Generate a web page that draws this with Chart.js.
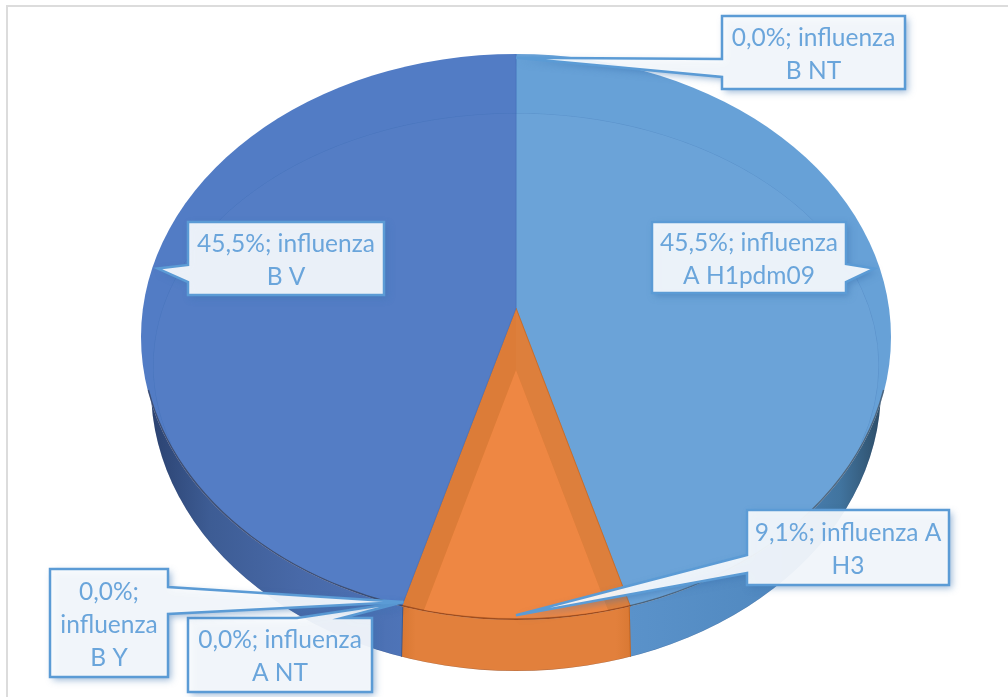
<!DOCTYPE html>
<html>
<head>
<meta charset="utf-8">
<script src="https://cdn.jsdelivr.net/npm/chart.js@4"></script>
<style>
    html, body { margin: 0; padding: 0; background: #ffffff; overflow: hidden; }
    #stage { position: relative; width: 1008px; height: 697px; }
    #stage canvas { position: absolute; left: 0; top: 0; }
    #frame { position: absolute; left: 6px; top: 5px; right: 0; bottom: 0; border-top: 2px solid #dcdcdc; border-left: 2px solid #dcdcdc; }
</style>
</head>
<body>
<div id="stage">
    <div id="frame"></div>
    <canvas id="wallLayer" width="1008" height="697"></canvas>
    <canvas id="baseLayer" width="1008" height="697"></canvas>
    <canvas id="innerLayer" width="1008" height="697"></canvas>
</div>
<script>
const categories = ['influenza A H1pdm09', 'influenza A H3', 'influenza A NT', 'influenza B Y', 'influenza B V', 'influenza B NT'];
const shares = [45.5, 9.1, 0, 0, 45.5, 0];

const baseColors = ['#67a1d7', '#dc7b36', '#67a1d7', '#527cc5', '#527cc5', '#527cc5'];
// the blue slices stay see-through so the orange band of the base layer shows
const innerColors = ['rgba(255,255,255,0.03)', '#ee8743', 'rgba(255,255,255,0.03)', 'rgba(255,255,255,0.01)', 'rgba(255,255,255,0.01)', 'rgba(255,255,255,0.01)'];
const sliceBorders = ['#5a97d0', '#c9661f', '#5a97d0', '#4a74bd', '#4a74bd', '#4a74bd'];

// box of each callout, same order as categories
const calloutBoxes = [
    { x: 652, y: 222, w: 194, h: 71, side: 'right', a: 264, b: 282 },
    { x: 747, y: 510, w: 202, h: 75, side: 'left', a: 555, b: 573 },
    { x: 188, y: 618, w: 184, h: 74, side: 'top', a: 297, b: 342 },
    { x: 50, y: 569, w: 118, h: 108, side: 'right', a: 587, b: 614 },
    { x: 188, y: 222, w: 196, h: 73, side: 'left', a: 265, b: 282 },
    { x: 722, y: 16, w: 183, h: 73, side: 'left', a: 59, b: 77 }
];

const TILT = 0.766;
const APEX_Y = 308;
const RADIUS = 540;
const TOP_RIM = { cy: 337, rx: 375, ry: 283 };
const INNER_RIM = { cy: 365.5, rx: 363, ry: 252.5 };
const WALL_RIM = { cy: 388, rx: 365, ry: 283 };

function formatShare(value) {
    return value.toFixed(1).replace('.', ',') + '%';
}

const tiltedPie = {
    id: 'tiltedPie',
    beforeDatasetsDraw(chart, args, opts) {
        const ctx = chart.ctx;
        const arc = chart.getDatasetMeta(0).data[0];
        ctx.save();
        ctx.beginPath();
        ctx.ellipse(arc.x, opts.cy, opts.rx, opts.ry, 0, 0, Math.PI * 2);
        ctx.clip();
        ctx.translate(arc.x, opts.apexY);
        ctx.scale(1, opts.tilt);
        ctx.translate(-arc.x, -arc.y);
    },
    afterDatasetsDraw(chart, args, opts) {
        const ctx = chart.ctx;
        const arc = chart.getDatasetMeta(0).data[0];
        ctx.restore();
        ctx.save();
        // keep the rim inside the ellipse, multiply needs the slice colour under it
        ctx.beginPath();
        ctx.ellipse(arc.x, opts.cy, opts.rx, opts.ry, 0, 0, Math.PI * 2);
        ctx.clip();
        ctx.beginPath();
        ctx.ellipse(arc.x, opts.cy, opts.rx, opts.ry, 0, opts.rimFrom, opts.rimTo);
        ctx.lineWidth = opts.rimWidth;
        ctx.globalCompositeOperation = opts.blend;
        ctx.strokeStyle = opts.rim;
        ctx.stroke();
        ctx.restore();
    }
};

function rimPoint(arc) {
    // ray from the slice apex through the middle of the slice, up to the top rim
    const mid = (arc.startAngle + arc.endAngle) / 2;
    const dx = Math.cos(mid);
    const dy = Math.sin(mid) * TILT;
    const oy = APEX_Y - TOP_RIM.cy;
    const A = (dx * dx) / (TOP_RIM.rx * TOP_RIM.rx) + (dy * dy) / (TOP_RIM.ry * TOP_RIM.ry);
    const B = 2 * oy * dy / (TOP_RIM.ry * TOP_RIM.ry);
    const C = (oy * oy) / (TOP_RIM.ry * TOP_RIM.ry) - 1;
    const t = (-B + Math.sqrt(B * B - 4 * A * C)) / (2 * A);
    return { x: arc.x + dx * t * 0.985, y: APEX_Y + dy * t * 0.985 };
}

function wrapLabel(ctx, text, maxWidth) {
    const lines = [];
    let line = '';
    text.split(' ').forEach(word => {
        const next = line ? line + ' ' + word : word;
        if (line && ctx.measureText(next).width > maxWidth) {
            lines.push(line);
            line = word;
        } else {
            line = next;
        }
    });
    lines.push(line);
    return lines;
}

function calloutPath(ctx, box, tip) {
    const r = box.x + box.w;
    const d = box.y + box.h;
    ctx.beginPath();
    ctx.moveTo(box.x, box.y);
    if (box.side === 'top') {
        ctx.lineTo(box.a, box.y);
        ctx.lineTo(tip.x, tip.y);
        ctx.lineTo(box.b, box.y);
    }
    ctx.lineTo(r, box.y);
    if (box.side === 'right') {
        ctx.lineTo(r, box.a);
        ctx.lineTo(tip.x, tip.y);
        ctx.lineTo(r, box.b);
    }
    ctx.lineTo(r, d);
    ctx.lineTo(box.x, d);
    if (box.side === 'left') {
        ctx.lineTo(box.x, box.b);
        ctx.lineTo(tip.x, tip.y);
        ctx.lineTo(box.x, box.a);
    }
    ctx.closePath();
}

const callouts = {
    id: 'callouts',
    afterDraw(chart) {
        const ctx = chart.ctx;
        const arcs = baseChart.getDatasetMeta(0).data;
        categories.forEach((name, i) => {
            const box = calloutBoxes[i];
            const tip = rimPoint(arcs[i]);
            ctx.save();
            calloutPath(ctx, box, tip);
            ctx.shadowColor = 'rgba(60,115,175,0.55)';
            ctx.shadowBlur = 7;
            ctx.shadowOffsetX = 3;
            ctx.shadowOffsetY = 3;
            ctx.fillStyle = 'rgba(249,251,253,0.92)';
            ctx.fill();
            ctx.shadowColor = 'transparent';
            ctx.lineWidth = 2.5;
            ctx.lineJoin = 'miter';
            ctx.strokeStyle = '#5b9bd5';
            ctx.stroke();

            ctx.font = '24.5px Lato';
            ctx.fillStyle = '#6aa5db';
            ctx.textAlign = 'center';
            ctx.textBaseline = 'middle';
            const lines = wrapLabel(ctx, formatShare(shares[i]) + '; ' + name, box.w - 13);
            const lineHeight = 33;
            const startY = box.y + box.h / 2 - (lines.length - 1) * lineHeight / 2 + 2;
            lines.forEach((line, n) => {
                ctx.fillText(line, box.x + box.w / 2, startY + n * lineHeight);
            });
            ctx.restore();
        });
    }
};

function makeLayer(id, colors, borders, look, extraPlugins) {
    const canvas = document.getElementById(id);
    return new Chart(canvas, {
        type: 'pie',
        data: {
            labels: categories,
            datasets: [{
                data: shares,
                backgroundColor: colors,
                borderColor: borders,
                borderWidth: 1,
                clip: false
            }]
        },
        options: {
            responsive: false,
            animation: false,
            events: [],
            radius: RADIUS,
            layout: { padding: { left: 24 } },
            plugins: {
                legend: { display: false },
                tooltip: { enabled: false },
                tiltedPie: look
            }
        },
        plugins: [tiltedPie].concat(extraPlugins || [])
    });
}

function wallGradient(ctx, stops) {
    const g = ctx.createLinearGradient(142, 0, 891, 0);
    stops.forEach(([x, color]) => g.addColorStop((x - 142) / 749, color));
    return g;
}

const wallCtx = document.getElementById('wallLayer').getContext('2d');
const wallBlue = wallGradient(wallCtx, [[150, '#2b4270'], [210, '#3d5c94'], [300, '#4869a8'], [405, '#4e74b8'], [891, '#4e74b8']]);
const wallLight = wallGradient(wallCtx, [[142, '#5a92ca'], [630, '#5a92ca'], [770, '#5189c0'], [840, '#41749f'], [885, '#2c4a63']]);
const wallOrange = wallGradient(wallCtx, [[142, '#d87833'], [402, '#d87833'], [416, '#e2803c'], [616, '#e2803c'], [632, '#d87833'], [891, '#d87833']]);
const wallColors = [wallLight, wallOrange, wallLight, wallBlue, wallBlue, wallBlue];

// the wall edges of the orange slice run almost straight down, so that layer is stretched hard
makeLayer('wallLayer', wallColors, ['#4a86bf', '#c9661f', '#4a86bf', '#3d5c94', '#3d5c94', '#3d5c94'], {
    ...WALL_RIM, apexY: -4021, tilt: 12, rim: 'rgba(40,60,100,0.25)', rimWidth: 1, blend: 'source-over', rimFrom: 0, rimTo: Math.PI * 2
});
const baseChart = makeLayer('baseLayer', baseColors, sliceBorders, {
    ...TOP_RIM, apexY: APEX_Y, tilt: TILT, rim: 'rgb(185,160,150)', rimWidth: 3, blend: 'multiply', rimFrom: Math.PI * 0.06, rimTo: Math.PI * 0.94
});
const clear = 'rgba(0,0,0,0)';
makeLayer('innerLayer', innerColors, [clear, clear, clear, clear, clear, clear], {
    ...INNER_RIM, apexY: 370, tilt: TILT, rim: 'rgba(50,100,170,0.28)', rimWidth: 1, blend: 'source-over', rimFrom: Math.PI * 0.9, rimTo: Math.PI * 2.1
}, [callouts]);
</script>
</body>
</html>
